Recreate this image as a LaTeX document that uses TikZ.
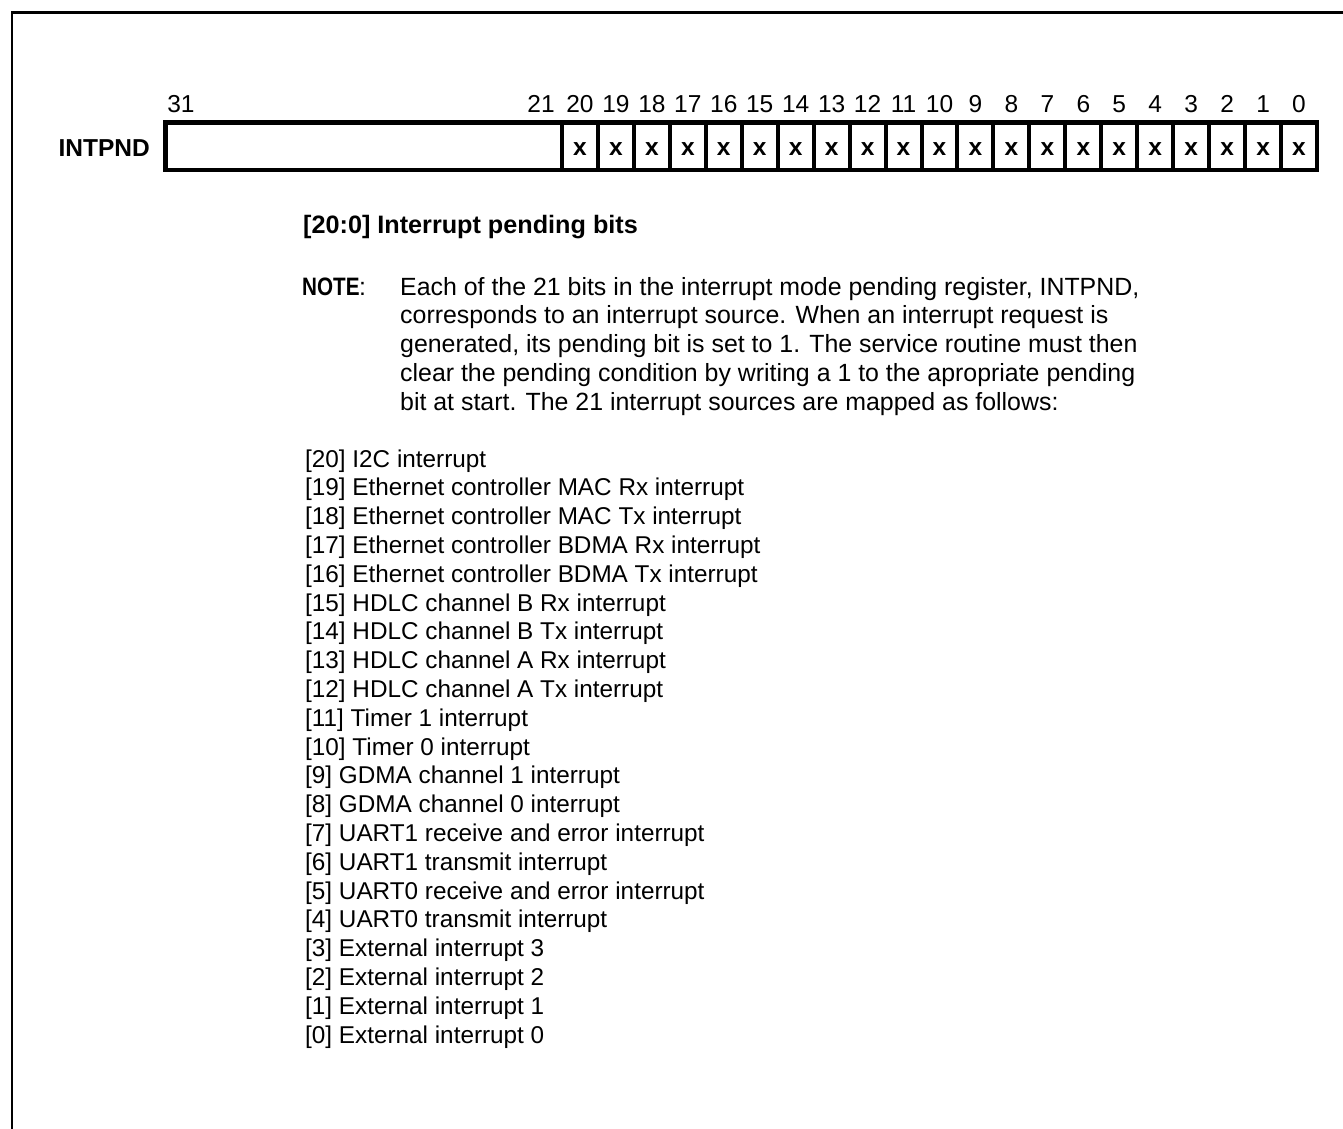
\documentclass[tikz,border=0pt]{standalone}
\usepackage{fontspec}
\setmainfont{Liberation Sans}
\begin{document}
\begin{tikzpicture}[x=1pt,y=-1pt,
  txt/.style={anchor=base west,inner sep=0pt,font=\fontsize{24.9}{28.8}\selectfont},
  listtxt/.style={anchor=base west,inner sep=0pt,font=\fontsize{24.3}{28.8}\selectfont},
  btxt/.style={anchor=base west,inner sep=0pt,font=\fontsize{25.2}{28.8}\selectfont\bfseries},
  bitnum/.style={anchor=base,inner sep=0pt,font=\fontsize{24.5}{28.8}\selectfont},
  xmark/.style={anchor=base,inner sep=0pt,font=\fontsize{24.5}{28.8}\selectfont\bfseries},
  regline/.style={line width=4.5pt},
  divline/.style={line width=4pt},
  frameline/.style={line width=2.5pt}]
\useasboundingbox (0,0) rectangle (1343,1128);
% frame
\draw[frameline] (12,1130) -- (12,12.5) -- (1345,12.5);
% register
\coordinate (rtl) at (165.25,122.25);
\coordinate (rbr) at (1317,169.75);
\draw[regline] (rtl) rectangle (rbr);
\foreach \k in {0,...,20}{
  \pgfmathsetmacro{\xx}{562+35.952*\k}
  \coordinate (d\k) at (\xx,122);
  \draw[divline] (\xx,122) -- (\xx,170);
}
\foreach \k in {0,...,20}{
  \pgfmathsetmacro{\xc}{562+35.952*\k+17.976}
  \pgfmathtruncatemacro{\b}{20-\k}
  \node[bitnum] (n\b) at (\xc,112) {\b};
  \node[xmark] (x\b) at (\xc,155) {x};
}
\node[bitnum] (n31) at (181,112) {31};
\node[bitnum] (n21) at (541,112) {21};
\node[anchor=base east,inner sep=0pt,font=\fontsize{24.5}{28.8}\selectfont\bfseries] (reg) at (150,156) {INTPND};
% description
\node[btxt] (title) at (303,233) {[20:0] Interrupt pending bits};
\node[btxt,xscale=0.82] (note) at (302,295) {NOTE};
\node[txt] (colon) at (359,295) {:};
\foreach \t [count=\i from 0] in {
  {Each of the 21 bits in the interrupt mode pending register, INTPND,},
  {corresponds to an interrupt source. When an interrupt request is},
  {generated, its pending bit is set to 1. The service routine must then},
  {clear the pending condition by writing a 1 to the apropriate pending},
  {bit at start. The 21 interrupt sources are mapped as follows:}}{
  \node[txt] (p\i) at (400,295+28.75*\i) {\t};
}
\foreach \t [count=\i from 0] in {
  {[20] I2C interrupt},
  {[19] Ethernet controller MAC Rx interrupt},
  {[18] Ethernet controller MAC Tx interrupt},
  {[17] Ethernet controller BDMA Rx interrupt},
  {[16] Ethernet controller BDMA Tx interrupt},
  {[15] HDLC channel B Rx interrupt},
  {[14] HDLC channel B Tx interrupt},
  {[13] HDLC channel A Rx interrupt},
  {[12] HDLC channel A Tx interrupt},
  {[11] Timer 1 interrupt},
  {[10] Timer 0 interrupt},
  {[9] GDMA channel 1 interrupt},
  {[8] GDMA channel 0 interrupt},
  {[7] UART1 receive and error interrupt},
  {[6] UART1 transmit interrupt},
  {[5] UART0 receive and error interrupt},
  {[4] UART0 transmit interrupt},
  {[3] External interrupt 3},
  {[2] External interrupt 2},
  {[1] External interrupt 1},
  {[0] External interrupt 0}}{
  \node[listtxt] (l\i) at (305,467+28.8*\i) {\t};
}
\end{tikzpicture}
\end{document}
